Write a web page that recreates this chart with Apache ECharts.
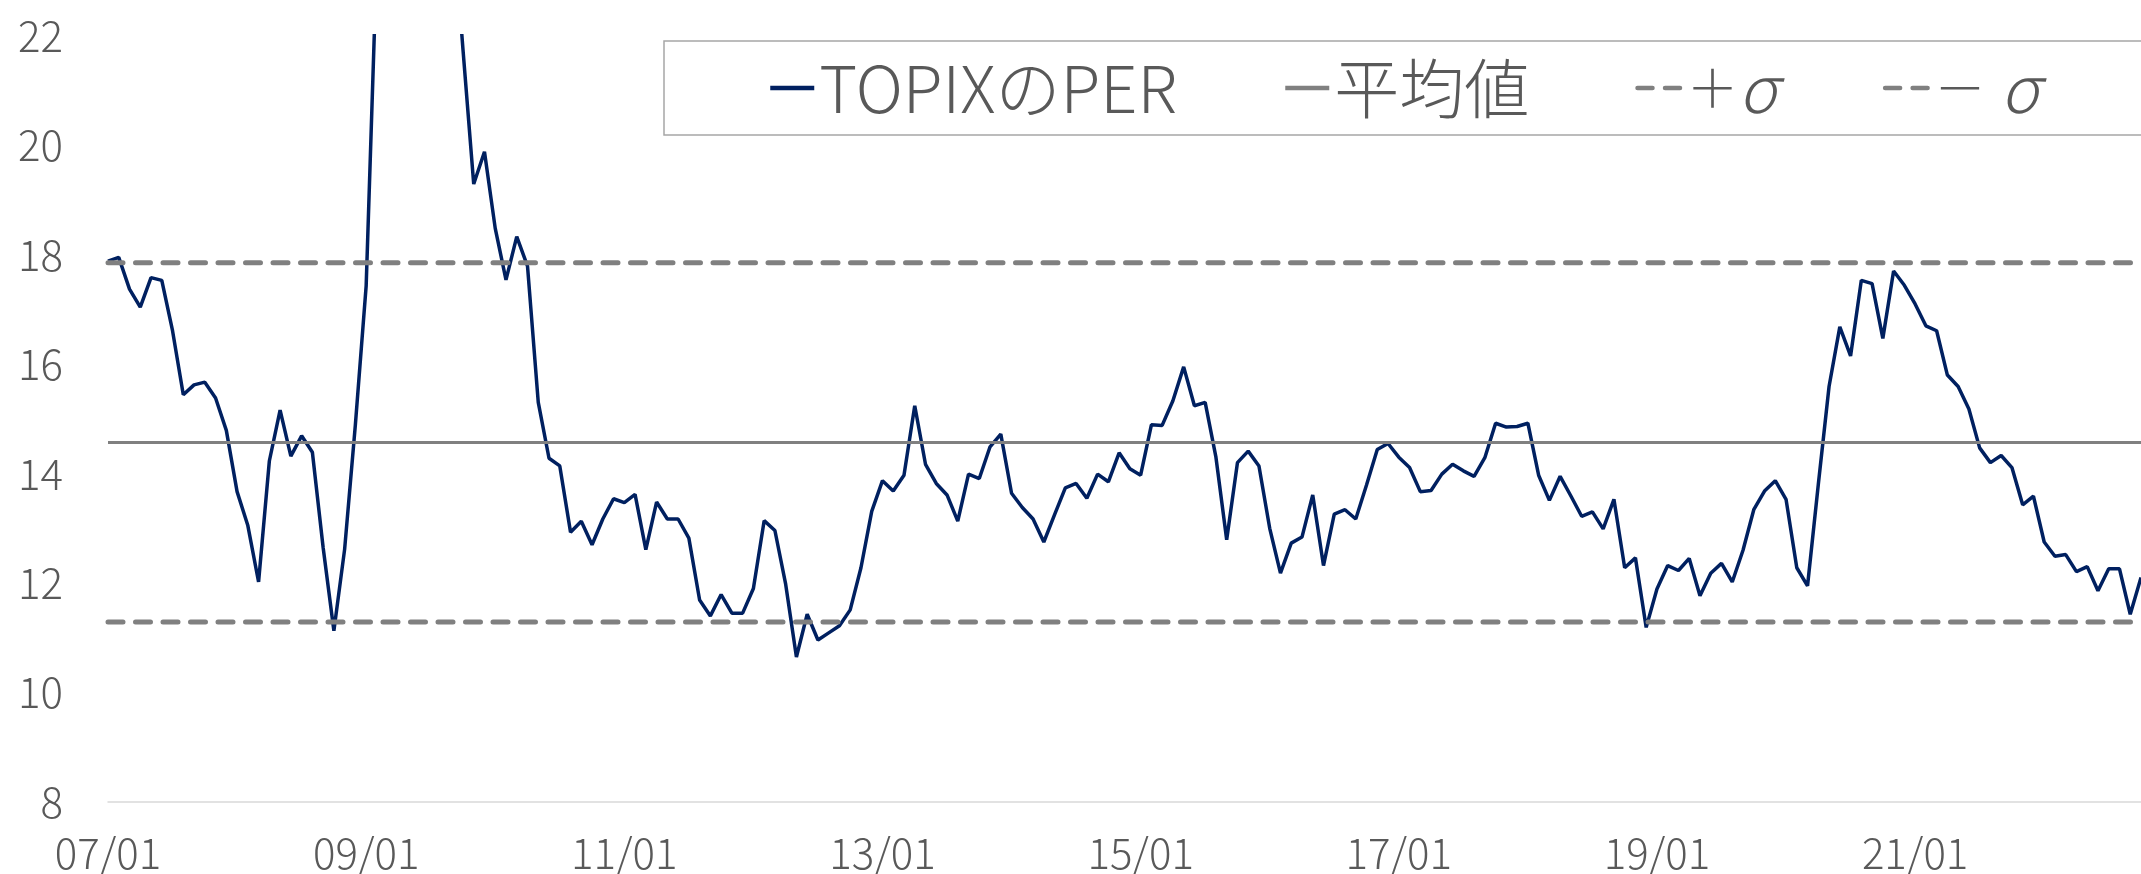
<!DOCTYPE html>
<html>
<head>
<meta charset="utf-8">
<script src="https://cdn.jsdelivr.net/npm/echarts@6/dist/echarts.min.js"></script>
<style>
  html, body { margin: 0; padding: 0; background: #fff; }
  #main { width: 2141px; height: 874px; }
</style>
</head>
<body>
<div id="main"></div>
<script>
// monthly TOPIX PER, 2007/01 ~ 2022/10 (values above 22 are off the chart)
const perValues = [
  17.88, 17.95, 17.37, 17.04, 17.58, 17.53, 16.61, 15.44, 15.62, 15.67, 15.38, 14.79,
  13.67, 13.05, 12.02, 14.23, 15.16, 14.32, 14.69, 14.39, 12.65, 11.13, 12.62, 14.9,
  17.43, 23.5, 29, 38, 48, 55, 45, 33, 24.3, 21.75, 19.29, 19.88,
  18.48, 17.54, 18.33, 17.79, 15.30, 14.28, 14.14, 12.93, 13.13, 12.70, 13.17, 13.54,
  13.47, 13.62, 12.61, 13.48, 13.17, 13.17, 12.82, 11.69, 11.40, 11.79, 11.45, 11.45,
  11.90, 13.14, 12.96, 11.98, 10.65, 11.43, 10.96, 11.09, 11.22, 11.51, 12.28, 13.31,
  13.87, 13.68, 13.97, 15.24, 14.17, 13.82, 13.61, 13.13, 13.99, 13.91, 14.49, 14.72,
  13.64, 13.38, 13.17, 12.75, 13.25, 13.74, 13.82, 13.55, 13.99, 13.85, 14.38, 14.09,
  13.97, 14.89, 14.88, 15.33, 15.95, 15.24, 15.30, 14.3, 12.79, 14.20, 14.41, 14.14,
  13.00, 12.18, 12.73, 12.84, 13.61, 12.32, 13.26, 13.34, 13.17, 13.79, 14.44, 14.55,
  14.30, 14.11, 13.67, 13.69, 13.99, 14.17, 14.05, 13.95, 14.29, 14.92, 14.85, 14.86,
  14.92, 13.97, 13.51, 13.95, 13.59, 13.22, 13.30, 12.99, 13.53, 12.28, 12.46, 11.19,
  11.89, 12.32, 12.23, 12.45, 11.77, 12.18, 12.36, 12.02, 12.60, 13.34, 13.68, 13.87,
  13.53, 12.28, 11.95, 13.8, 15.59, 16.68, 16.15, 17.53, 17.47, 16.47, 17.70, 17.44,
  17.10, 16.70, 16.61, 15.80, 15.59, 15.18, 14.47, 14.20, 14.33, 14.11, 13.43, 13.59,
  12.75, 12.49, 12.52, 12.21, 12.30, 11.86, 12.26, 12.26, 11.43, 12.1
];
const meanValue = 14.57;
const plusSigma = 17.85;
const minusSigma = 11.29;

const seriesNames = ['TOPIXのPER', '平均値', '＋σ', '－ σ'];

// month labels YY/MM
const months = [];
for (let i = 0; i < perValues.length; i++) {
  const y = 7 + Math.floor(i / 12);
  const m = i % 12 + 1;
  months.push(String(y).padStart(2, '0') + '/' + String(m).padStart(2, '0'));
}

const font = 'Noto Sans CJK JP';
const labelColor = '#595959';

const chart = echarts.init(document.getElementById('main'));
chart.setOption({
  animation: false,
  backgroundColor: '#fff',
  grid: { left: 108, right: -5.5, top: 35.7, bottom: 66.3 },
  legend: {
    left: 664,
    top: 41,
    width: 1700,
    padding: [12, 104, 12, 104],
    itemGap: 106,
    itemWidth: 44,
    itemHeight: 14,
    borderColor: '#a6a6a6',
    borderWidth: 1.5,
    backgroundColor: '#fff',
    itemStyle: { opacity: 0 },
    lineStyle: { width: 4.5 },
    data: seriesNames,
    formatter: (name) => name
      .replace('＋', '{p|＋}')
      .replace('－', '{p|－}')
      .replace('σ', '{s|σ}'),
    textStyle: {
      fontFamily: font,
      fontWeight: 300,
      fontSize: 65,
      lineHeight: 70,
      color: labelColor,
      rich: {
        p: { fontFamily: font, fontWeight: 300, fontSize: 52, lineHeight: 70, color: labelColor },
        s: { fontFamily: font, fontStyle: 'italic', fontSize: 65, lineHeight: 70, color: labelColor }
      }
    }
  },
  xAxis: {
    type: 'category',
    data: months,
    boundaryGap: false,
    axisLine: { show: true, lineStyle: { color: '#d9d9d9', width: 1.5 } },
    axisTick: { show: false },
    splitLine: { show: false },
    axisLabel: {
      interval: 23,
      margin: 30,
      fontFamily: font,
      fontWeight: 300,
      fontSize: 42,
      color: labelColor
    }
  },
  yAxis: {
    type: 'value',
    min: 8,
    max: 22,
    interval: 2,
    axisLine: { show: false },
    axisTick: { show: false },
    splitLine: { show: false },
    axisLabel: {
      margin: 45,
      padding: [0, 0, 8, 0],
      fontFamily: font,
      fontWeight: 300,
      fontSize: 42,
      color: labelColor
    }
  },
  series: [
    {
      name: seriesNames[0],
      type: 'line',
      data: perValues,
      symbol: 'none',
      clip: true,
      lineStyle: { color: '#002060', width: 3.5 },
      itemStyle: { color: '#002060' }
    },
    {
      name: seriesNames[1],
      type: 'line',
      data: months.map(() => meanValue),
      symbol: 'none',
      lineStyle: { color: '#808080', width: 3 },
      itemStyle: { color: '#808080' }
    },
    {
      name: seriesNames[2],
      type: 'line',
      data: months.map(() => plusSigma),
      symbol: 'none',
      lineStyle: { color: '#808080', width: 5, type: [15, 12.5], cap: 'round' },
      itemStyle: { color: '#808080' }
    },
    {
      name: seriesNames[3],
      type: 'line',
      data: months.map(() => minusSigma),
      symbol: 'none',
      lineStyle: { color: '#808080', width: 5, type: [15, 12.5], cap: 'round' },
      itemStyle: { color: '#808080' }
    }
  ]
});
</script>
</body>
</html>
